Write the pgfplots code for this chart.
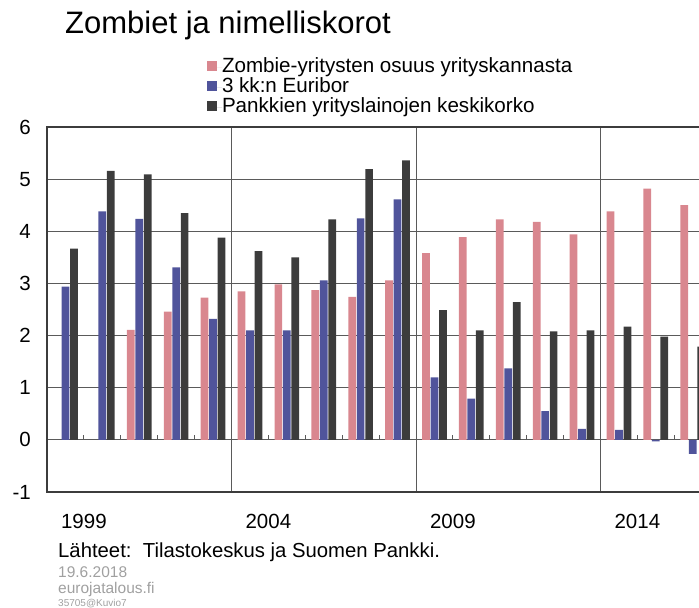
\documentclass[border=0pt]{standalone}
\usepackage{fontspec}
\setmainfont{Liberation Sans}
\usepackage{pgfplots}
\pgfplotsset{compat=1.18}
\definecolor{zpink}{RGB}{217,135,143}
\definecolor{eblue}{RGB}{80,84,155}
\definecolor{kdark}{RGB}{60,60,60}
\definecolor{gridc}{RGB}{90,90,90}
\definecolor{srcgray}{RGB}{160,160,160}
\begin{document}
\begin{tikzpicture}
\path[use as bounding box] (0,0) rectangle (699bp,-608bp);
\clip (0,0) rectangle (699bp,-608bp);
\node[anchor=base west, inner sep=0pt, font=\fontsize{31bp}{36bp}\selectfont] at (65bp,-33bp) {Zombiet ja nimelliskorot};
\begin{axis}[
  at={(47bp,-492bp)}, anchor=south west,
  scale only axis, width=652bp, height=365bp,
  xmin=1998.5, xmax=2016.17, ymin=-1, ymax=6,
  ytick={-1,0,...,6},
  xtick={1999.5,2004.5,2009.5,2014.5},
  xticklabels={1999,2004,2009,2014},
  major tick length=0pt,
  ymajorgrids, grid style={gridc, line width=0.8bp},
  extra x ticks={2003.5,2008.5,2013.5},
  extra x tick labels={},
  extra x tick style={grid=major, major tick length=0pt},
  axis line style={draw=none},
  clip mode=individual,
  /pgf/number format/assume math mode=true,
  tick label style={font=\fontsize{20.5bp}{24bp}\selectfont},
  yticklabel style={anchor=east, inner sep=0pt, xshift=-16bp},
  xticklabel style={anchor=base, inner sep=0pt, yshift=-36bp},
  mybar/.style={ybar, bar width=0.209, draw=none},
  legend image code/.code={\fill[#1, draw=none] (0bp,-3bp) rectangle (10bp,7bp); \path (0bp,0bp) -- (15bp,0bp);},
  legend cell align=left,
  legend style={at={(axis description cs:0.2454,1.19)}, anchor=north west,
    draw=none, fill=none, inner sep=0pt, outer sep=0pt, row sep=0pt,
    font=\fontsize{20.6bp}{20bp}\selectfont,
    nodes={inner sep=0pt, text height=15bp, text depth=5bp}},
]
\addplot[mybar, bar shift=-0.23, fill=zpink] coordinates {
 (2001,2.11) (2002,2.46) (2003,2.73) (2004,2.85) (2005,2.98) (2006,2.87)
 (2007,2.74) (2008,3.06) (2009,3.58) (2010,3.89) (2011,4.23) (2012,4.18)
 (2013,3.94) (2014,4.38) (2015,4.82) (2016,4.50)};
\addlegendentry{Zombie-yritysten osuus yrityskannasta}
\addplot[mybar, bar shift=0, fill=eblue] coordinates {
 (1999,2.94) (2000,4.38) (2001,4.24) (2002,3.31) (2003,2.32) (2004,2.10)
 (2005,2.10) (2006,3.06) (2007,4.25) (2008,4.61) (2009,1.20) (2010,0.79)
 (2011,1.37) (2012,0.55) (2013,0.21) (2014,0.19) (2015,-0.03) (2016,-0.27)};
\addlegendentry{3 kk:n Euribor}
\addplot[mybar, bar shift=0.23, fill=kdark] coordinates {
 (1999,3.67) (2000,5.16) (2001,5.09) (2002,4.35) (2003,3.88) (2004,3.62)
 (2005,3.50) (2006,4.23) (2007,5.19) (2008,5.36) (2009,2.49) (2010,2.10)
 (2011,2.64) (2012,2.08) (2013,2.10) (2014,2.17) (2015,1.98) (2016,1.79)};
\addlegendentry{Pankkien yrityslainojen keskikorko}
\pgfplotsinvokeforeach{1999.5,2000.5,2001.5,2002.5,2004.5,2005.5,2006.5,2007.5,2009.5,2010.5,2011.5,2012.5,2014.5,2015.5}{
  \draw[gridc, line width=0.8bp] (axis cs:#1,0) -- (axis cs:#1,0.09);
}
\draw[kdark, line width=1.3bp] (rel axis cs:1,1) -- (rel axis cs:0,1) -- (rel axis cs:0,0) -- (rel axis cs:1,0);
\end{axis}
\node[anchor=base west, inner sep=0pt, font=\fontsize{20.3bp}{24bp}\selectfont] at (58bp,-557bp) {Lähteet:\ \ Tilastokeskus ja Suomen Pankki.};
\node[anchor=base west, inner sep=0pt, text=srcgray, font=\fontsize{15.5bp}{18bp}\selectfont] at (58bp,-577bp) {19.6.2018};
\node[anchor=base west, inner sep=0pt, text=srcgray, font=\fontsize{15.5bp}{18bp}\selectfont] at (58bp,-593bp) {eurojatalous.fi};
\node[anchor=base west, inner sep=0pt, text=srcgray, font=\fontsize{10bp}{12bp}\selectfont] at (58bp,-606bp) {35705@Kuvio7};
\end{tikzpicture}
\end{document}
